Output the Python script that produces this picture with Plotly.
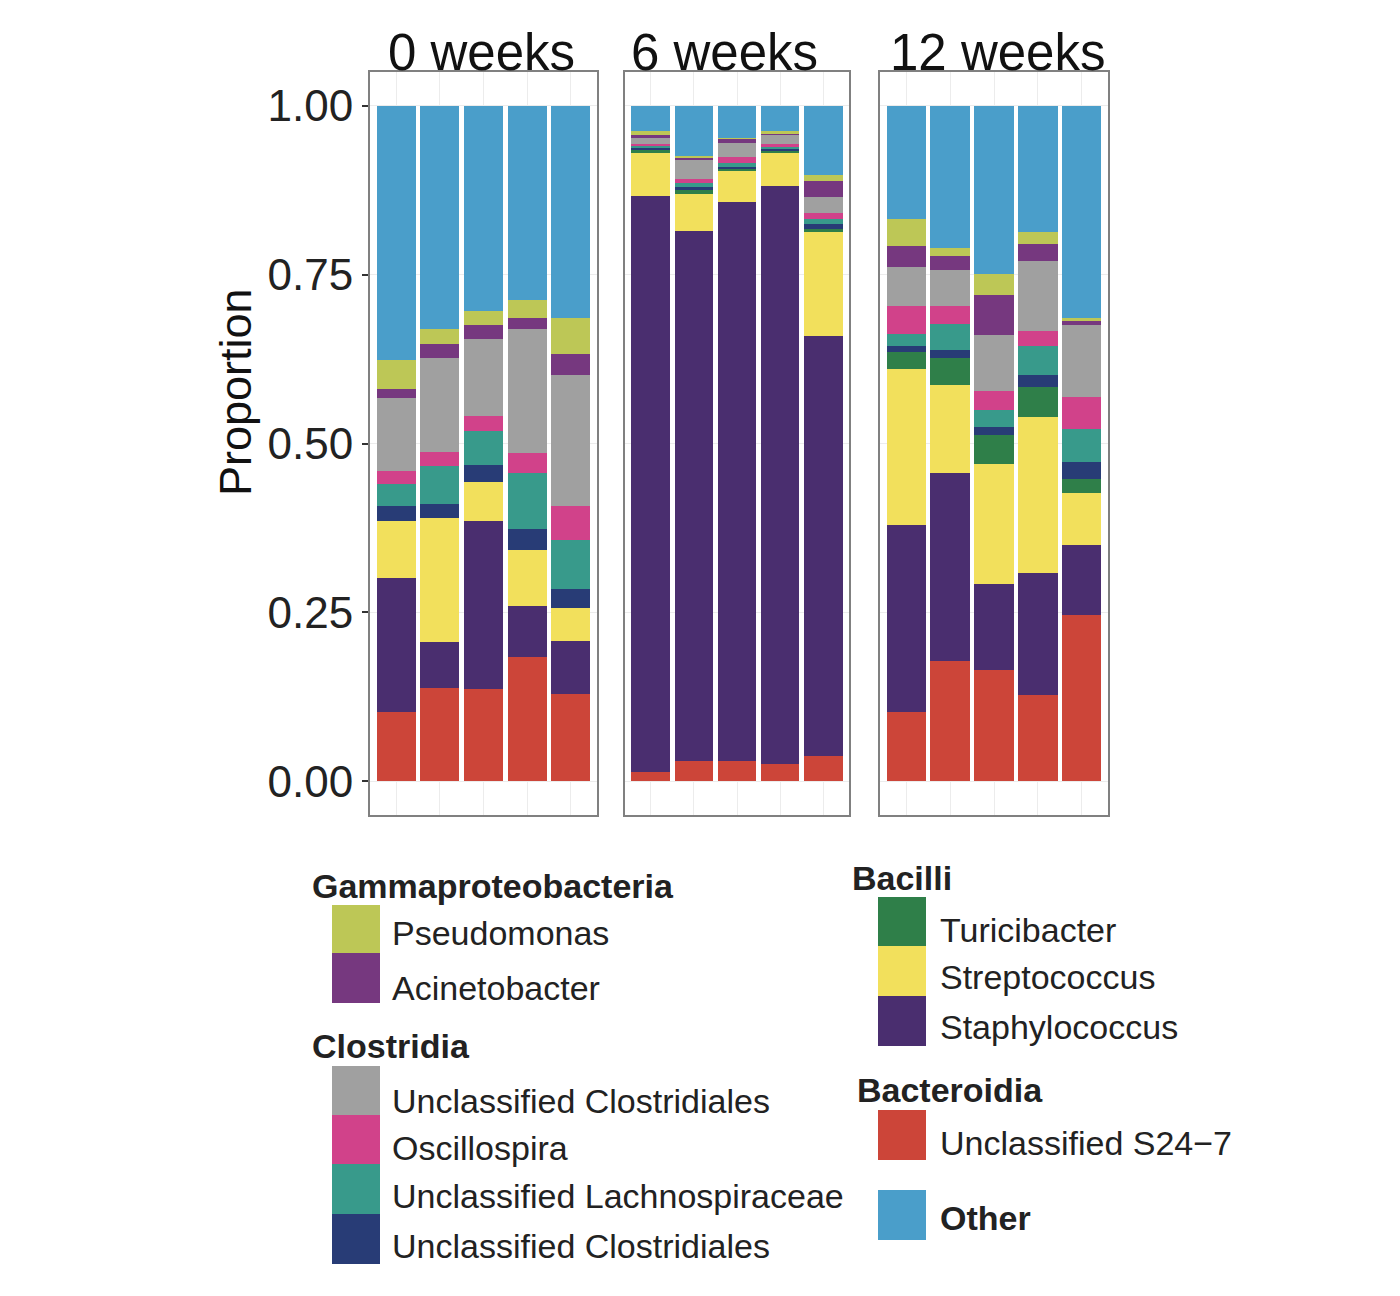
import plotly.graph_objects as go

# ---------------- data ----------------
weeks = ["0 weeks", "6 weeks", "12 weeks"]
samples = [1, 2, 3, 4, 5]

# proportions per sample (5 samples x 3 time points, in order 0w, 6w, 12w)
s24_7 = [0.102, 0.138, 0.136, 0.184, 0.129,
         0.013, 0.030, 0.030, 0.025, 0.037,
         0.102, 0.178, 0.165, 0.127, 0.246]
staphylococcus = [0.199, 0.068, 0.249, 0.076, 0.078,
                  0.854, 0.785, 0.828, 0.856, 0.622,
                  0.278, 0.278, 0.127, 0.181, 0.104]
streptococcus = [0.085, 0.184, 0.058, 0.082, 0.049,
                 0.063, 0.055, 0.046, 0.049, 0.154,
                 0.231, 0.131, 0.178, 0.231, 0.076]
turicibacter = [0.0, 0.0, 0.0, 0.0, 0.0,
                0.004, 0.005, 0.003, 0.004, 0.005,
                0.024, 0.039, 0.043, 0.045, 0.021]
unclass_clost_navy = [0.021, 0.021, 0.025, 0.031, 0.028,
                      0.003, 0.005, 0.002, 0.002, 0.007,
                      0.009, 0.013, 0.012, 0.017, 0.026]
lachnospiraceae = [0.033, 0.055, 0.050, 0.083, 0.073,
                   0.003, 0.006, 0.007, 0.003, 0.008,
                   0.018, 0.038, 0.025, 0.043, 0.049]
oscillospira = [0.020, 0.022, 0.023, 0.030, 0.050,
                0.003, 0.006, 0.008, 0.004, 0.008,
                0.041, 0.026, 0.028, 0.022, 0.047]
unclass_clost_gray = [0.108, 0.138, 0.113, 0.184, 0.194,
                      0.010, 0.029, 0.021, 0.014, 0.024,
                      0.058, 0.054, 0.083, 0.104, 0.107]
acinetobacter = [0.013, 0.022, 0.022, 0.016, 0.032,
                 0.003, 0.002, 0.006, 0.001, 0.023,
                 0.031, 0.021, 0.059, 0.025, 0.005]
pseudomonas = [0.042, 0.022, 0.020, 0.027, 0.053,
               0.006, 0.003, 0.002, 0.005, 0.009,
               0.040, 0.011, 0.031, 0.018, 0.005]
other = [0.377, 0.330, 0.304, 0.287, 0.314,
         0.038, 0.074, 0.047, 0.037, 0.103,
         0.168, 0.211, 0.249, 0.187, 0.314]

y_ticks = [0.0, 0.25, 0.5, 0.75, 1.0]
y_tick_labels = ["0.00", "0.25", "0.50", "0.75", "1.00"]

# stacking order bottom -> top
taxa = [
    ("Unclassified S24\u22127", s24_7, "#CC4539"),
    ("Staphylococcus", staphylococcus, "#4A2E6F"),
    ("Streptococcus", streptococcus, "#F2E05C"),
    ("Turicibacter", turicibacter, "#2F7F49"),
    ("Unclassified Clostridiales", unclass_clost_navy, "#283C76"),
    ("Unclassified Lachnospiraceae", lachnospiraceae, "#389A8B"),
    ("Oscillospira", oscillospira, "#D1428A"),
    ("Unclassified Clostridiales", unclass_clost_gray, "#A0A0A0"),
    ("Acinetobacter", acinetobacter, "#76387F"),
    ("Pseudomonas", pseudomonas, "#BDC756"),
    ("Other", other, "#4A9ECA"),
]

W, H = 1400, 1296
OFF = 8  # page body margin offset


def px(x):
    return (x - OFF) / W


def py(y):
    return 1 - (y - OFF) / H


fig = go.Figure()
axis_suffix = ["", "2", "3"]
for name, vals, col in taxa:
    for p in range(3):
        fig.add_trace(go.Bar(
            x=samples, y=vals[p * 5:(p + 1) * 5], name=name,
            marker=dict(color=col, line=dict(width=0)),
            width=0.9, showlegend=False,
            xaxis="x" + axis_suffix[p], yaxis="y" + axis_suffix[p],
        ))

panel_px = [(370, 597), (625, 849), (880, 1108)]
title_cx = [481, 724, 997]
ydom = [py(815), py(72)]
layout = dict(
    width=W, height=H, barmode="stack",
    margin=dict(l=0, r=0, t=0, b=0),
    paper_bgcolor="white", plot_bgcolor="white",
    font=dict(family="Liberation Sans, Arial, sans-serif", color="#222"),
)
for p in range(3):
    s = axis_suffix[p]
    layout["xaxis" + s] = dict(
        domain=[px(panel_px[p][0]), px(panel_px[p][1])],
        range=[0.4, 5.6], tickvals=samples, showticklabels=False,
        ticks="", showgrid=True, gridcolor="#ececec", gridwidth=1,
        showline=True, mirror=True, linecolor="#808080", linewidth=2,
        zeroline=False, anchor="y" + s, fixedrange=True,
    )
    layout["yaxis" + s] = dict(
        domain=ydom, range=[-0.05, 1.05], tickvals=y_ticks,
        ticktext=y_tick_labels, showticklabels=(p == 0),
        ticks="outside" if p == 0 else "", ticklen=6, tickwidth=2,
        tickcolor="#333", tickfont=dict(size=44, color="#222"),
        showgrid=True, gridcolor="#ececec", gridwidth=1,
        showline=True, mirror=True, linecolor="#808080", linewidth=2,
        zeroline=False, anchor="x" + s, fixedrange=True,
    )
fig.update_layout(**layout)

annotations = []
shapes = []
# facet titles
for p in range(3):
    annotations.append(dict(
        x=px(title_cx[p]), y=py(52), xref="paper", yref="paper",
        text=weeks[p], showarrow=False, font=dict(size=51, color="#111"),
        xanchor="center", yanchor="middle"))
# y title
annotations.append(dict(
    x=px(235), y=py(392), xref="paper", yref="paper", text="Proportion",
    textangle=-90, showarrow=False, font=dict(size=45, color="#111"),
    xanchor="center", yanchor="middle"))

# ---------------- legend (drawn) ----------------
lookup = {}
for i, (name, vals, col) in enumerate(taxa):
    lookup[i] = (name, col)


def group_title(text, x, y):
    annotations.append(dict(
        x=px(x), y=py(y), xref="paper", yref="paper",
        text="<b>" + text + "</b>", showarrow=False,
        font=dict(size=34, color="#222"), xanchor="left", yanchor="middle"))


def key(idx, x0, y0, y1, lx, ly, bold=False):
    name, col = lookup[idx]
    shapes.append(dict(type="rect", xref="paper", yref="paper",
                       x0=px(x0), x1=px(x0 + 48), y0=py(y1), y1=py(y0),
                       fillcolor=col, line=dict(width=0)))
    annotations.append(dict(
        x=px(lx), y=py(ly), xref="paper", yref="paper",
        text=("<b>" + name + "</b>") if bold else name, showarrow=False,
        font=dict(size=34, color="#222"), xanchor="left", yanchor="middle"))


# left column
group_title("Gammaproteobacteria", 310, 886)
key(9, 332, 905, 953, 390, 933)
key(8, 332, 953, 1003, 390, 988)
group_title("Clostridia", 310, 1046)
key(7, 332, 1066, 1115, 390, 1101)
key(6, 332, 1115, 1164, 390, 1148)
key(5, 332, 1164, 1214, 390, 1196)
key(4, 332, 1214, 1264, 390, 1246)
# right column
group_title("Bacilli", 850, 878)
key(3, 878, 897, 946, 938, 930)
key(2, 878, 946, 996, 938, 977)
key(1, 878, 996, 1046, 938, 1027)
group_title("Bacteroidia", 855, 1090)
key(0, 878, 1110, 1160, 938, 1143)
key(10, 878, 1190, 1240, 938, 1218, bold=True)

fig.update_layout(annotations=annotations, shapes=shapes)
fig.write_html("out.html")
